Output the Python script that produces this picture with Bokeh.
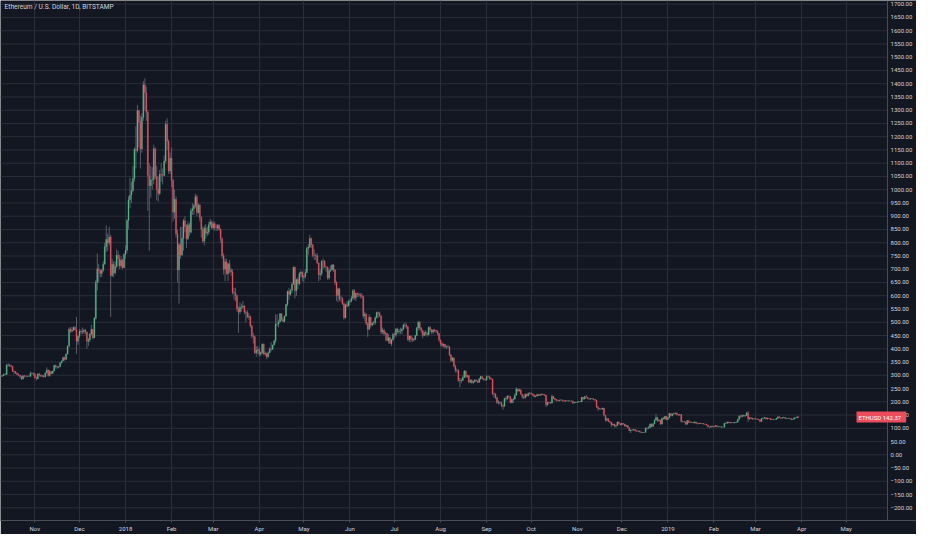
import numpy as np
import pandas as pd
from bokeh.plotting import figure
from bokeh.models import Range1d, FixedTicker, Label, ColumnDataSource, Span
from bokeh.core.properties import value
from bokeh.embed import file_html
from bokeh.resources import INLINE

# ---------------- data (ETH/USD daily, Bitstamp) ----------------
start_date = "2017-10-09"
first_open = 297.0

close = [
    # Oct 2017 (9-31)
    296, 299, 303, 303, 338, 339, 336, 334, 316, 314, 308, 303, 300, 295, 286, 298, 297, 296, 296, 296, 307, 307, 305,
    # Nov 2017
    290, 287, 305, 300, 296, 298, 294, 309, 320, 299, 314, 307, 316, 337, 333, 330, 332, 347, 354, 367,
    360, 380, 410, 474, 466, 471, 480, 472, 428, 447,
    # Dec 2017
    466, 463, 465, 470, 463, 428, 434, 456, 473, 441, 515, 651, 702, 695, 684, 696, 719, 785, 812, 799,
    822, 676, 719, 686, 711, 753, 740, 712, 734, 706, 756,
    # Jan 2018
    772, 884, 962, 980, 997, 1042, 1153, 1148, 1299, 1255, 1154, 1273, 1396, 1366, 1292, 1054, 1015, 1037, 1039, 1155,
    1050, 1002, 986, 1058, 1056, 1054, 1108, 1247, 1183, 1071, 1119,
    # Feb 2018
    1036, 915, 964, 834, 697, 793, 754, 817, 883, 861, 815, 868, 840, 921, 928, 940, 974, 914, 942, 895,
    850, 806, 855, 836, 840, 868, 878, 856,
    # Mar 2018
    872, 857, 856, 866, 850, 815, 751, 700, 728, 683, 721, 698, 690, 613, 610, 601, 550, 539, 556, 558,
    561, 539, 537, 520, 522, 486, 448, 445, 385, 394, 397,
    # Apr 2018
    379, 386, 417, 380, 383, 370, 385, 400, 398, 414, 430, 493, 493, 501, 532, 511, 503, 524, 567, 616,
    605, 621, 643, 708, 619, 661, 645, 683, 689, 670,
    # May 2018
    673, 687, 778, 784, 816, 792, 752, 752, 752, 724, 679, 684, 730, 730, 709, 708, 667, 694, 697, 716,
    698, 650, 601, 626, 589, 589, 570, 517, 566, 561, 577,
    # Jun 2018
    580, 591, 619, 592, 609, 607, 604, 601, 597, 524, 530, 494, 474, 519, 489, 497, 499, 517, 537, 533,
    525, 463, 470, 457, 458, 431, 442, 420, 434, 454,
    # Jul 2018
    452, 475, 464, 467, 467, 474, 490, 490, 483, 434, 448, 438, 433, 435, 450, 479, 500, 478, 469, 450,
    461, 458, 453, 480, 471, 463, 471, 469, 466, 457, 433,
    # Aug 2018
    420, 412, 417, 407, 408, 407, 376, 356, 365, 334, 319, 319, 280, 278, 281, 292, 316, 295, 299, 274,
    281, 272, 276, 282, 278, 273, 287, 295, 287, 284, 282,
    # Sep 2018
    295, 294, 289, 286, 230, 229, 216, 196, 197, 196, 186, 183, 212, 210, 221, 220, 196, 209, 210, 225,
    248, 241, 245, 229, 218, 215, 228, 222, 231, 232,
    # Oct 2018
    230, 226, 220, 222, 227, 224, 227, 229, 227, 225, 189, 196, 197, 195, 220, 213, 209, 205, 204, 206,
    206, 204, 202, 204, 203, 203, 203, 203, 195, 197, 198,
    # Nov 2018
    199, 201, 200, 217, 210, 219, 217, 211, 210, 212, 211, 209, 206, 180, 174, 174, 172, 176, 149, 130,
    136, 126, 123, 113, 116, 109, 110, 123, 118, 113,
    # Dec 2018
    118, 116, 108, 110, 102, 91, 93, 93, 95, 91, 89, 90, 86, 84, 84, 85, 101, 100, 102, 116,
    107, 117, 130, 141, 129, 131, 116, 138, 135, 145, 133,
    # Jan 2019
    140, 156, 147, 154, 155, 157, 151, 150, 152, 126, 126, 124, 115, 129, 122, 123, 123, 120, 124, 119,
    117, 119, 117, 118, 116, 115, 112, 105, 104, 108, 106,
    # Feb 2019
    107, 110, 106, 106, 106, 104, 104, 119, 119, 124, 120, 122, 121, 120, 122, 123, 133, 145, 144, 149,
    146, 148, 158, 136, 140, 137, 136, 136,
    # Mar 2019 (1-30)
    136, 134, 132, 126, 137, 138, 140, 135, 138, 137, 133, 134, 133, 133, 137, 143, 140, 138, 140, 141,
    137, 137, 138, 137, 133, 134, 140, 139, 143, 142.37,
]

high = [
    300, 301, 306, 308, 342, 346, 342, 340, 336, 318, 315, 310, 307, 302, 299, 300, 300, 299, 299, 300, 314, 312, 310,
    308, 295, 307, 309, 303, 302, 300, 311, 330, 322, 320, 315, 318, 340, 340, 336, 334, 350, 356, 370,
    370, 382, 412, 480, 482, 482, 484, 485, 520, 450,
    475, 472, 480, 475, 475, 465, 440, 460, 490, 475, 520, 660, 760, 720, 700, 700, 730, 800, 865, 835,
    860, 830, 740, 730, 730, 775, 770, 755, 750, 740, 760,
    790, 890, 975, 1045, 1030, 1090, 1160, 1240, 1320, 1300, 1280, 1290, 1410, 1420, 1390, 1300, 1100, 1090, 1085, 1170,
    1160, 1090, 1050, 1075, 1100, 1080, 1130, 1260, 1270, 1190, 1140,
    1160, 1040, 1000, 975, 850, 800, 860, 860, 890, 900, 870, 880, 875, 930, 950, 945, 985, 980, 950, 945,
    900, 860, 865, 870, 860, 880, 890, 885,
    880, 880, 870, 870, 870, 855, 820, 760, 740, 740, 725, 735, 705, 700, 630, 630, 605, 560, 575, 570,
    580, 565, 545, 545, 535, 525, 490, 460, 450, 410, 410,
    405, 390, 420, 420, 390, 385, 390, 405, 425, 415, 432, 530, 530, 510, 535, 535, 520, 525, 570, 620,
    630, 625, 650, 710, 710, 665, 670, 690, 695, 692,
    680, 700, 785, 795, 830, 820, 795, 775, 760, 760, 725, 700, 735, 740, 735, 712, 710, 705, 715, 720,
    720, 700, 655, 630, 630, 600, 595, 575, 570, 580, 585,
    585, 600, 625, 625, 612, 612, 612, 610, 610, 600, 540, 535, 500, 530, 520, 500, 505, 522, 540, 540,
    540, 525, 480, 475, 465, 460, 455, 445, 437, 460,
    460, 478, 480, 475, 480, 478, 495, 500, 495, 485, 450, 450, 445, 440, 452, 482, 505, 505, 482, 470,
    465, 470, 465, 485, 485, 475, 475, 475, 472, 470, 460,
    435, 425, 420, 418, 412, 415, 410, 380, 370, 368, 340, 325, 322, 290, 288, 300, 320, 318, 302, 300,
    285, 285, 280, 285, 284, 280, 290, 298, 298, 290, 287,
    300, 300, 296, 292, 287, 235, 232, 218, 206, 203, 199, 190, 215, 220, 225, 224, 221, 212, 215, 232,
    255, 250, 250, 246, 230, 225, 232, 230, 235, 237,
    235, 233, 228, 225, 230, 228, 230, 232, 230, 228, 226, 200, 200, 199, 228, 222, 214, 210, 208, 208,
    210, 208, 206, 206, 206, 206, 205, 205, 204, 199, 200,
    201, 203, 203, 218, 218, 222, 225, 219, 213, 214, 214, 212, 210, 207, 184, 176, 176, 178, 177, 150,
    140, 137, 127, 124, 118, 117, 113, 126, 126, 119,
    121, 120, 117, 113, 112, 103, 96, 96, 98, 96, 92, 92, 91, 87, 86, 86, 102, 104, 108, 118,
    118, 118, 134, 155, 143, 135, 132, 140, 143, 146, 146,
    142, 158, 157, 156, 159, 160, 159, 153, 154, 153, 128, 127, 125, 131, 130, 126, 124, 124, 126, 125,
    119, 121, 120, 119, 119, 117, 116, 113, 106, 110, 109,
    109, 111, 110, 108, 108, 107, 106, 120, 124, 125, 125, 123, 124, 123, 124, 125, 136, 150, 150, 151,
    151, 150, 162, 165, 142, 141, 140, 139,
    138, 137, 135, 133, 138, 141, 142, 141, 140, 139, 138, 136, 135, 135, 139, 146, 144, 141, 142, 143,
    142, 139, 139, 139, 138, 136, 141, 141, 145, 144,
]

low = [
    293, 295, 298, 300, 301, 333, 331, 330, 312, 305, 305, 300, 296, 290, 282, 284, 292, 292, 294, 293, 295, 303, 298,
    298, 280, 285, 295, 294, 295, 291, 293, 307, 295, 295, 303, 305, 315, 326, 324, 328, 330, 344, 354,
    355, 357, 379, 405, 460, 462, 468, 466, 380, 415,
    440, 455, 455, 455, 455, 400, 410, 425, 450, 435, 440, 510, 620, 650, 670, 670, 690, 718, 765, 770,
    790, 520, 670, 670, 680, 705, 710, 700, 705, 700, 705,
    740, 760, 850, 930, 950, 990, 1030, 1080, 1140, 1160, 1080, 1140, 1260, 1300, 1260, 920, 770, 970, 1000, 1020,
    1040, 960, 955, 980, 1030, 1020, 1050, 1100, 1150, 1060, 1060,
    1010, 880, 890, 820, 650, 570, 740, 750, 770, 840, 780, 810, 825, 835, 905, 905, 930, 900, 910, 880,
    820, 800, 790, 815, 825, 830, 860, 850,
    850, 845, 845, 845, 845, 800, 740, 680, 655, 680, 655, 685, 675, 605, 585, 580, 540, 460, 530, 540,
    550, 530, 500, 515, 510, 480, 440, 420, 380, 370, 380,
    370, 372, 380, 375, 372, 360, 366, 383, 390, 395, 412, 420, 485, 480, 500, 505, 500, 500, 520, 560,
    585, 600, 610, 642, 590, 600, 625, 640, 670, 655,
    650, 665, 685, 755, 780, 780, 745, 735, 735, 720, 655, 660, 675, 700, 705, 690, 660, 660, 690, 695,
    690, 640, 580, 575, 580, 575, 565, 510, 515, 555, 560,
    565, 575, 585, 585, 580, 595, 595, 590, 590, 515, 505, 490, 445, 470, 480, 485, 490, 490, 515, 515,
    520, 455, 455, 450, 430, 428, 420, 418, 410, 430,
    440, 445, 458, 455, 455, 455, 472, 480, 475, 430, 425, 425, 425, 428, 432, 448, 470, 470, 460, 440,
    447, 450, 445, 450, 462, 455, 455, 462, 460, 450, 425,
    410, 405, 405, 400, 400, 402, 372, 350, 350, 330, 310, 310, 275, 255, 270, 278, 290, 290, 290, 270,
    271, 268, 268, 272, 275, 272, 272, 282, 285, 280, 278,
    280, 290, 283, 283, 225, 215, 210, 192, 190, 190, 180, 170, 182, 202, 208, 213, 195, 195, 195, 208,
    223, 236, 238, 226, 212, 210, 212, 218, 220, 228,
    226, 222, 216, 217, 220, 222, 222, 224, 224, 222, 180, 185, 192, 192, 194, 210, 205, 202, 201, 202,
    204, 202, 200, 201, 201, 201, 201, 201, 192, 193, 196,
    196, 198, 198, 199, 207, 209, 215, 210, 207, 208, 209, 206, 204, 177, 165, 171, 170, 171, 145, 125,
    126, 124, 118, 105, 110, 103, 102, 108, 114, 110,
    112, 113, 106, 106, 101, 90, 82, 91, 91, 88, 87, 87, 84, 82, 82, 83, 84, 95, 98, 100,
    104, 105, 115, 130, 124, 125, 112, 114, 132, 133, 130,
    131, 138, 145, 145, 152, 153, 149, 146, 148, 122, 122, 121, 113, 114, 121, 121, 120, 119, 119, 117,
    115, 116, 116, 116, 114, 113, 110, 104, 102, 103, 104,
    104, 106, 105, 104, 104, 102, 103, 103, 116, 118, 119, 119, 119, 119, 119, 121, 122, 133, 140, 140,
    144, 143, 146, 124, 131, 134, 131, 132,
    134, 133, 130, 123, 125, 134, 136, 133, 134, 135, 131, 131, 131, 131, 132, 136, 138, 136, 137, 138,
    135, 134, 136, 135, 130, 132, 133, 137, 138, 140,
]

month_tick_dates = ["2017-11-01", "2017-12-01", "2018-01-01", "2018-02-01", "2018-03-01", "2018-04-01",
                    "2018-05-01", "2018-06-01", "2018-07-01", "2018-08-01", "2018-09-01", "2018-10-01",
                    "2018-11-01", "2018-12-01", "2019-01-01", "2019-02-01", "2019-03-01", "2019-04-01",
                    "2019-05-01"]
month_tick_labels = ["Nov", "Dec", "2018", "Feb", "Mar", "Apr", "May", "Jun", "Jul", "Aug", "Sep", "Oct",
                     "Nov", "Dec", "2019", "Feb", "Mar", "Apr", "May"]
price_ticks = list(range(-200, 1750, 50))
title_text = "Ethereum / U.S. Dollar, 1D, BITSTAMP"
symbol = "ETHUSD"

# ---------------- styling ----------------
BG = "#131722"
GRID = "#2a2e39"
AXIS = "#4a4e59"
TXT = "#d1d4dc"
UP = "#53b987"
DOWN = "#eb4d5c"
WICK = "#5f6470"
FONT = "Roboto"

# x is in days relative to 2017-11-01
X_LEFT = -23.14          # left edge of the chart
X_AXIS = 573.8           # position of the price-scale line
X_RIGHT = 593.3          # right edge of the figure (price scale column)
PX_PER_DAY = 1.4859

origin = pd.Timestamp("2017-11-01")
dates = pd.date_range(start_date, periods=len(close), freq="D")
x = np.asarray((dates - origin).days, dtype=float)
c = np.array(close, dtype=float)
o = np.concatenate([[first_open], c[:-1]])
h = np.maximum(np.array(high, dtype=float), np.maximum(o, c))
l = np.minimum(np.array(low, dtype=float), np.minimum(o, c))
up = c >= o

src_up = ColumnDataSource(dict(x=x[up], o=o[up], c=c[up], h=h[up], l=l[up]))
src_dn = ColumnDataSource(dict(x=x[~up], o=o[~up], c=c[~up], h=h[~up], l=l[~up]))

p = figure(width=916, height=534,
           x_range=Range1d(X_LEFT, X_RIGHT), y_range=Range1d(-248, 1714),
           y_axis_location=None,
           output_backend="svg", toolbar_location=None,
           background_fill_color=BG, border_fill_color=BG,
           min_border_left=0, min_border_top=0, min_border_right=0, min_border_bottom=12)
p.outline_line_color = None

tick_x = [int((pd.Timestamp(d) - origin).days) for d in month_tick_dates]
p.xaxis.ticker = FixedTicker(ticks=tick_x)
p.xaxis.major_label_overrides = {t: lab for t, lab in zip(tick_x, month_tick_labels)}
ax = p.xaxis[0]
ax.axis_line_color = AXIS
ax.major_tick_line_color = AXIS
ax.minor_tick_line_color = None
ax.major_tick_out = 2
ax.major_tick_in = 0
ax.major_label_text_color = TXT
ax.major_label_text_font = FONT
ax.major_label_text_font_size = "6px"
ax.major_label_standoff = 2

p.xgrid.ticker = FixedTicker(ticks=tick_x)
p.xgrid.grid_line_color = GRID
p.ygrid.grid_line_color = None

# horizontal grid lines, stopping at the price scale
p.segment(x0=[X_LEFT] * len(price_ticks), y0=price_ticks, x1=[X_AXIS] * len(price_ticks), y1=price_ticks,
          line_color=GRID, line_width=1)

# candles
for src, col in ((src_up, UP), (src_dn, DOWN)):
    p.segment(x0="x", y0="h", x1="x", y1="l", source=src, line_color=WICK, line_width=0.9)
    p.vbar(x="x", width=0.7, top="o", bottom="c", source=src, fill_color=col, line_color=col, line_width=0.3)

# price scale (right)
p.add_layout(Span(location=X_AXIS, dimension="height", line_color=AXIS, line_width=1))
price_labels = [f"{t:.2f}".replace("-", "\u2212") for t in price_ticks]
p.text(x=[X_AXIS + 3.0 / PX_PER_DAY] * len(price_ticks), y=price_ticks, text=price_labels,
       text_color=TXT, text_font=value(FONT), text_font_size="6px",
       text_baseline="middle", text_align="left")

# title
p.add_layout(Label(x=X_LEFT + 4.0 / PX_PER_DAY, y=1688, text=title_text, text_color=TXT, text_font=FONT,
                   text_font_size="6.6px", text_baseline="middle", text_align="left"))

# last price tag
p.add_layout(Label(x=X_AXIS - 31.0 / PX_PER_DAY, y=close[-1], text=f"{symbol}   {close[-1]:.2f}",
                   text_color="#ffffff", text_font=FONT, text_font_size="6px",
                   text_baseline="middle", text_align="left",
                   background_fill_color=DOWN, padding=2))

open("out.html", "w").write(file_html(p, INLINE))
